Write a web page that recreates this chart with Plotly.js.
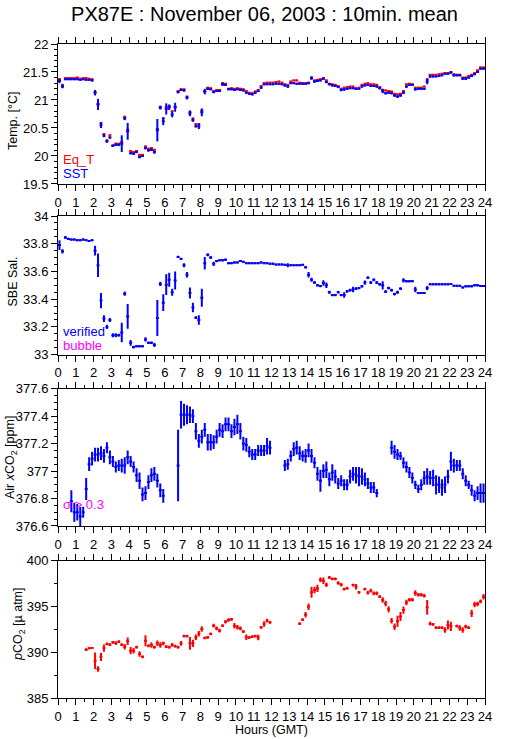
<!DOCTYPE html>
<html>
<head>
<meta charset="utf-8">
<script src="https://cdn.plot.ly/plotly-3.0.1.min.js"></script>
<style>html,body{margin:0;padding:0;background:#fff;}#chart{width:529px;height:739px;}</style>
</head>
<body>
<div id="chart"></div>
<script>
// 10-minute means, 6 values per hour (hour 0 .. hour 23)
const sst = [
21.34,21.24,21.37,21.37,21.37,21.37, 21.37,21.36,21.37,21.36,21.36,21.35,
21.13,20.92,20.55,20.36,20.26,20.33, 20.18,20.20,20.20,20.22,20.67,20.44,
20.05,20.04,20.07,19.98,20.00,20.14, 20.10,20.11,20.07,20.46,20.86,20.62,
20.84,20.87,20.74,20.87,21.14,21.18, 21.17,21.04,20.76,20.64,20.53,20.53,
20.78,21.15,21.20,21.19,21.14,21.16, 21.16,21.28,21.27,21.19,21.19,21.18,
21.19,21.18,21.17,21.13,21.11,21.10, 21.13,21.16,21.22,21.28,21.28,21.28,
21.28,21.29,21.29,21.28,21.26,21.24, 21.30,21.30,21.29,21.29,21.29,21.29,
21.30,21.39,21.33,21.34,21.35,21.38, 21.32,21.28,21.26,21.25,21.23,21.18,
21.19,21.20,21.21,21.21,21.20,21.20, 21.24,21.26,21.27,21.25,21.25,21.24,
21.21,21.16,21.12,21.13,21.12,21.08, 21.06,21.08,21.13,21.24,21.27,21.27,
21.19,21.20,21.20,21.20,21.33,21.42, 21.42,21.42,21.43,21.44,21.47,21.47,
21.49,21.44,21.44,21.44,21.38,21.38, 21.40,21.43,21.46,21.50,21.56,21.56];
const sstErr = [
.04,.03,.01,.01,.01,.01, .01,.01,.01,.01,.01,.015,
.05,.10,.05,.025,.02,.02, .02,.02,.02,.15,.03,.15,
.02,.02,.015,.02,.015,.02, .02,.02,.03,.20,.03,.07,
.10,.05,.05,.08,.02,.02, .015,.03,.05,.03,.02,.05,
.07,.05,.02,.015,.015,.015, .015,.03,.015,.01,.01,.01,
.01,.01,.01,.01,.015,.01, .015,.02,.02,.015,.01,.01,
.01,.01,.01,.01,.02,.02, .015,.015,.01,.01,.01,.015,
.015,.03,.02,.015,.01,.015, .02,.015,.015,.015,.015,.025,
.025,.015,.015,.015,.015,.01, .015,.015,.015,.015,.015,.015,
.02,.04,.02,.015,.015,.02, .02,.02,.025,.02,.015,.015,
.02,.015,.015,.015,.05,.02, .015,.01,.01,.01,.01,.01,
.015,.02,.015,.015,.015,.02, .015,.02,.015,.015,.01,.01];
const eqT = [
21.37,21.27,21.39,21.39,21.39,21.39, 21.40,21.38,21.39,21.39,21.38,21.37,
21.14,20.93,20.59,20.39,20.28,20.37, 20.19,20.22,20.22,20.25,20.70,20.47,
20.09,20.07,20.09,20.02,20.02,20.17, 20.13,20.14,20.11,20.48,20.88,20.67,
20.87,20.89,20.80,20.88,21.16,21.19, 21.19,21.06,20.79,20.67,20.57,20.57,
20.81,21.16,21.22,21.21,21.16,21.18, 21.18,21.30,21.29,21.20,21.21,21.20,
21.21,21.20,21.19,21.16,21.13,21.12, 21.15,21.18,21.25,21.30,21.31,21.31,
21.31,21.32,21.33,21.31,21.28,21.27, 21.33,21.35,21.35,21.31,21.30,21.30,
21.31,21.40,21.35,21.36,21.37,21.39, 21.35,21.29,21.28,21.27,21.25,21.20,
21.22,21.23,21.24,21.24,21.21,21.22, 21.27,21.29,21.30,21.28,21.28,21.27,
21.23,21.18,21.17,21.16,21.15,21.11, 21.10,21.11,21.16,21.28,21.29,21.28,
21.22,21.22,21.22,21.24,21.37,21.45, 21.45,21.45,21.46,21.47,21.48,21.48,
21.50,21.46,21.45,21.45,21.40,21.40, 21.43,21.45,21.48,21.53,21.58,21.58];
const sal = [
33.79,33.745,33.845,33.835,33.83,33.83, 33.825,33.825,33.83,33.825,33.82,33.825,
33.75,33.645,33.39,33.26,33.20,33.25, 33.14,33.14,33.14,33.16,33.44,33.276,
33.085,33.055,33.06,33.06,33.06,33.11, 33.085,33.085,33.07,33.264,33.51,33.375,
33.505,33.54,33.45,33.535,33.705,33.69, 33.645,33.577,33.445,33.34,33.267,33.25,
33.41,33.66,33.72,33.70,33.655,33.675, 33.68,33.68,33.685,33.66,33.66,33.665,
33.665,33.675,33.67,33.66,33.66,33.66, 33.66,33.66,33.665,33.66,33.66,33.656,
33.656,33.65,33.65,33.65,33.648,33.645, 33.645,33.645,33.645,33.645,33.648,33.63,
33.577,33.54,33.52,33.50,33.495,33.517, 33.50,33.45,33.43,33.43,33.45,33.43,
33.43,33.457,33.465,33.47,33.476,33.48, 33.493,33.52,33.555,33.52,33.54,33.52,
33.507,33.50,33.454,33.48,33.465,33.437, 33.45,33.476,33.536,33.53,33.53,33.53,
33.47,33.445,33.445,33.445,33.48,33.507, 33.507,33.507,33.507,33.507,33.507,33.507,
33.51,33.497,33.497,33.497,33.485,33.493, 33.493,33.493,33.50,33.50,33.495,33.495];
const salErr = [
.035,.015,.01,.008,.006,.006, .006,.006,.006,.006,.006,.006,
.035,.085,.055,.025,.015,.015, .015,.015,.01,.07,.015,.09,
.02,.01,.006,.006,.006,.015, .008,.008,.015,.13,.015,.06,
.075,.05,.025,.065,.008,.008, .015,.02,.04,.035,.01,.035,
.065,.045,.01,.01,.015,.008, .006,.006,.008,.006,.006,.006,
.006,.006,.006,.006,.006,.006, .006,.006,.006,.006,.006,.006,
.006,.006,.006,.006,.006,.015, .006,.006,.006,.006,.006,.008,
.02,.015,.01,.008,.008,.02, .02,.01,.008,.008,.008,.008,
.02,.01,.01,.02,.01,.008, .008,.015,.01,.01,.01,.01,
.01,.03,.01,.01,.01,.01, .01,.01,.015,.008,.008,.006,
.02,.006,.006,.006,.015,.006, .006,.006,.006,.006,.006,.006,
.006,.006,.006,.006,.006,.006, .006,.006,.006,.006,.006,.006];
const xco2 = [
null,null,null,null,376.78,376.70, 376.70,376.67,376.70,376.87,377.05,377.09,
377.12,377.12,377.13,377.11,377.17,377.10, 377.07,377.03,377.04,377.04,377.04,377.10,
377.07,377.03,376.97,376.93,376.83,376.84, 376.92,376.97,376.98,376.93,376.86,376.82,
null,null,null,null,377.04,377.41, 377.41,377.41,377.41,377.40,377.29,377.22,
377.25,377.30,377.21,377.21,377.21,377.25, 377.30,377.29,377.34,377.34,377.29,377.32,
377.34,377.29,377.20,377.19,377.14,377.12, 377.12,377.15,377.15,377.15,377.18,377.17,
null,null,null,null,377.04,377.05, 377.11,377.16,377.17,377.13,377.11,377.11,
377.15,377.11,377.06,376.98,376.93,377.00, 377.01,376.94,376.99,376.96,376.91,376.93,
376.90,376.90,376.96,376.98,376.97,376.96, 376.96,376.94,376.91,376.88,376.88,376.84,
null,null,null,null,377.17,377.14, 377.12,377.11,377.06,377.03,376.99,376.95,
376.90,376.87,376.90,376.95,376.96,376.95, 376.95,376.90,376.90,376.88,376.90,376.96,
377.07,377.04,377.04,377.04,376.98,376.93, 376.90,376.86,376.82,376.84,376.84,376.84];
const xco2Err = [
0,0,0,0,.08,.07, .06,.07,.04,.08,.05,.05,
.05,.05,.05,.05,.04,.05, .04,.04,.04,.05,.06,.05,
.04,.04,.05,.06,.05,.05, .05,.05,.05,.05,.05,.05,
0,0,0,0,.26,.10, .08,.07,.06,.05,.06,.05,
.05,.05,.06,.06,.05,.05, .05,.05,.05,.05,.05,.06,
.07,.06,.05,.05,.04,.04, .04,.04,.04,.04,.06,.05,
0,0,0,0,.04,.04, .04,.05,.05,.05,.04,.05,
.05,.05,.04,.05,.08,.05, .06,.05,.06,.05,.04,.04,
.04,.04,.05,.05,.06,.07, .06,.05,.04,.04,.04,.03,
0,0,0,0,.05,.05, .04,.03,.04,.04,.04,.04,
.03,.03,.04,.05,.06,.05, .06,.07,.06,.06,.06,.05,
.07,.05,.04,.04,.04,.04, .03,.04,.04,.05,.07,.07];
const pco2 = [
null,null,null,null,null,null, null,null,null,390.28,390.42,390.46,
389.08,388.17,389.50,390.45,390.90,390.82, 391.08,391.00,391.15,390.82,390.60,391.20,
390.17,390.17,390.55,389.80,389.50,391.25, 390.70,390.80,390.55,390.97,390.80,390.97,
390.60,390.55,390.80,390.66,390.55,390.97, 391.77,391.77,390.97,390.97,391.63,392.03,
392.54,391.56,391.63,392.00,392.90,392.60, 392.35,392.90,393.33,393.52,393.60,392.90,
392.72,392.60,392.25,391.63,391.60,391.70, 391.77,391.60,392.72,393.08,393.45,393.27,
null,null,null,null,null,null, null,null,null,393.12,393.55,394.10,
394.97,396.54,396.80,396.97,397.92,397.80, 397.37,398.17,398.00,398.00,397.56,397.37,
396.90,397.00,null,397.34,397.15,396.54, null,396.90,396.50,396.72,396.43,396.43,
396.06,395.70,395.33,394.68,393.44,392.78, 393.37,393.90,394.60,395.44,395.73,395.73,
396.47,396.28,396.28,396.17,394.90,393.12, 393.05,392.68,392.68,392.68,392.43,392.97,
392.83,null,392.86,392.64,392.43,392.80, 392.68,394.25,395.20,395.26,395.55,396.06];
const pco2Err = [
0,0,0,0,0,0, 0,0,0,.15,.1,.1,
.9,.3,.45,.4,.15,.15, .15,.2,.15,.15,.3,.4,
.4,.3,.15,.3,.15,.6, .15,.3,.15,.3,.3,.2,
.15,.15,.2,.15,.15,.25, .15,.15,.7,.4,.3,.3,
.3,.15,.15,.15,.2,.2, .2,.15,.2,.2,.15,.3,
.25,.2,.15,.3,.15,.15, .15,.3,.15,.3,.2,.15,
0,0,0,0,0,0, 0,0,0,.15,.15,.3,
.35,.6,.35,.4,.25,.35, .25,.15,.15,.15,.2,.2,
.15,.15,0,.15,.3,.15, 0,.15,.2,.2,.2,.2,
.15,.3,.3,.35,.3,.35, .6,.5,.4,.3,.2,.2,
.3,.2,.2,.2,.8,.2, .15,.15,.15,.15,.3,.5,
.5,0,.15,.3,.3,.2, .15,.4,.3,.25,.2,.3];

const hourTicks = ['0','1','2','3','4','5','6','7','8','9','10','11','12','13','14','15','16','17','18','19','20','21','22','23','24'];
const panelRanges = [[19.5,22],[33,34],[376.6,377.6],[385,400]];
const panelDticks = [0.5,0.2,0.2,5];
const panelMinor = [0.1,0.05,0.05,2.5];

// time stamps: centre of each 10-minute interval (hours GMT)
const hours = sst.map((_, k) => k / 6 + 1 / 12);

const BLUE = '#0000ff', RED = '#ff0000', MAG = '#ff00ff';
const FONT = 'Liberation Sans, Arial, Helvetica, sans-serif';

function series(y, err, color, xa, ya) {
  return {
    x: hours, y: y, xaxis: xa, yaxis: ya, type: 'scatter', mode: 'markers',
    marker: {size: 2, color: color},
    error_x: {type: 'constant', value: 1 / 12, width: 0, thickness: 2, color: color},
    error_y: Array.isArray(err)
      ? {type: 'data', array: err, symmetric: true, width: 0, thickness: 2, color: color}
      : {type: 'constant', value: err, width: 0, thickness: 2, color: color},
    hoverinfo: 'skip', showlegend: false
  };
}

const data = [
  series(eqT, 0.006, RED, 'x', 'y'),
  series(sst, sstErr, BLUE, 'x', 'y'),
  series(sal, salErr, BLUE, 'x2', 'y2'),
  series(xco2, xco2Err, BLUE, 'x3', 'y3'),
  series(pco2, pco2Err, RED, 'x4', 'y4')
];

const domains = [[0.786, 1], [0.525, 0.737], [0.263, 0.473], [0, 0.21]];
const tickFont = {family: FONT, size: 13, color: '#000'};

const layout = {
  width: 529, height: 739,
  margin: {l: 58, r: 44, t: 44, b: 41},
  paper_bgcolor: '#fff', plot_bgcolor: '#fff',
  showlegend: false,
  font: {family: FONT, color: '#000'},
  title: {text: 'PX87E : November 06, 2003 : 10min. mean', font: {family: FONT, size: 20, color: '#000'},
          x: 0.5, xanchor: 'center', xref: 'container', y: 1 - 14 / 739, yanchor: 'middle', yref: 'container'},
  annotations: []
};

for (let i = 0; i < 4; i++) {
  const n = i + 1;
  const sfx = n === 1 ? '' : String(n);
  layout['xaxis' + sfx] = {
    domain: [0, 1], range: [0, 24], anchor: 'y' + sfx,
    tickmode: 'array', tickvals: hourTicks.map(Number), ticktext: hourTicks,
    ticks: 'outside', ticklen: 6, tickcolor: '#000', tickwidth: 1,
    minor: {dtick: 0.5, tick0: 0, ticks: 'outside', ticklen: 3, tickcolor: '#000', showgrid: false},
    showline: true, linecolor: '#000', linewidth: 1, mirror: 'ticks',
    showgrid: false, zeroline: false, tickfont: tickFont, fixedrange: true
  };
  layout['yaxis' + sfx] = {
    domain: domains[i], range: panelRanges[i], anchor: 'x' + sfx,
    dtick: panelDticks[i], tick0: panelRanges[i][0],
    ticks: 'outside', ticklen: 6, tickcolor: '#000', tickwidth: 1,
    minor: {dtick: panelMinor[i], tick0: panelRanges[i][0], ticks: 'outside', ticklen: 3, tickcolor: '#000', showgrid: false},
    showline: true, linecolor: '#000', linewidth: 1, mirror: true,
    showgrid: false, zeroline: false, tickfont: tickFont, fixedrange: true
  };
  layout['yaxis' + (n + 4)] = {
    overlaying: 'y' + sfx, side: 'right', anchor: 'x' + sfx,
    range: panelRanges[i], dtick: panelDticks[i], tick0: panelRanges[i][0],
    ticks: 'outside', ticklen: 6, tickcolor: '#000', tickwidth: 1,
    minor: {dtick: panelMinor[i], tick0: panelRanges[i][0], ticks: 'outside', ticklen: 3, tickcolor: '#000', showgrid: false},
    showline: false, showgrid: false, zeroline: false, tickfont: tickFont, fixedrange: true
  };
}

// y-axis titles (placed as rotated annotations)
const yTitles = ['Temp. [°C]', 'SBE Sal.', 'Air <i>x</i>CO<sub>2</sub> [ppm]', '<i>p</i>CO<sub>2</sub> [µ atm]'];
const yTitleX = [13, 12.5, 11, 19];
const yTitleY = [121, 282, 458, 624];
for (let i = 0; i < 4; i++) {
  layout.annotations.push({
    text: yTitles[i], textangle: -90, showarrow: false,
    xref: 'paper', yref: 'paper',
    x: (yTitleX[i] - 58) / 427, y: (698 - yTitleY[i]) / 654,
    xanchor: 'center', yanchor: 'middle',
    font: {family: FONT, size: 12.5, color: '#000'}
  });
}
layout.annotations.push({
  text: 'Hours (GMT)', showarrow: false, xref: 'paper', yref: 'paper',
  x: 0.5, y: (698 - 730) / 654, xanchor: 'center', yanchor: 'middle',
  font: {family: FONT, size: 12.5, color: '#000'}
});
// in-panel labels
const labels = [
  {t: 'Eq_T', c: RED, xr: 'x domain', yr: 'y domain', y: 0.178},
  {t: 'SST', c: BLUE, xr: 'x domain', yr: 'y domain', y: 0.072},
  {t: 'verified', c: BLUE, xr: 'x2 domain', yr: 'y2 domain', y: 0.17},
  {t: 'bubble', c: MAG, xr: 'x2 domain', yr: 'y2 domain', y: 0.066},
  {t: 'σ > 0.3', c: MAG, xr: 'x3 domain', yr: 'y3 domain', y: 0.16}
];
labels.forEach(l => layout.annotations.push({
  text: l.t, showarrow: false, xref: l.xr, yref: l.yr, x: 0.007, y: l.y,
  xanchor: 'left', yanchor: 'middle', font: {family: FONT, size: 13, color: l.c}
}));

Plotly.newPlot('chart', data, layout, {staticPlot: true, displayModeBar: false});
</script>
</body>
</html>
